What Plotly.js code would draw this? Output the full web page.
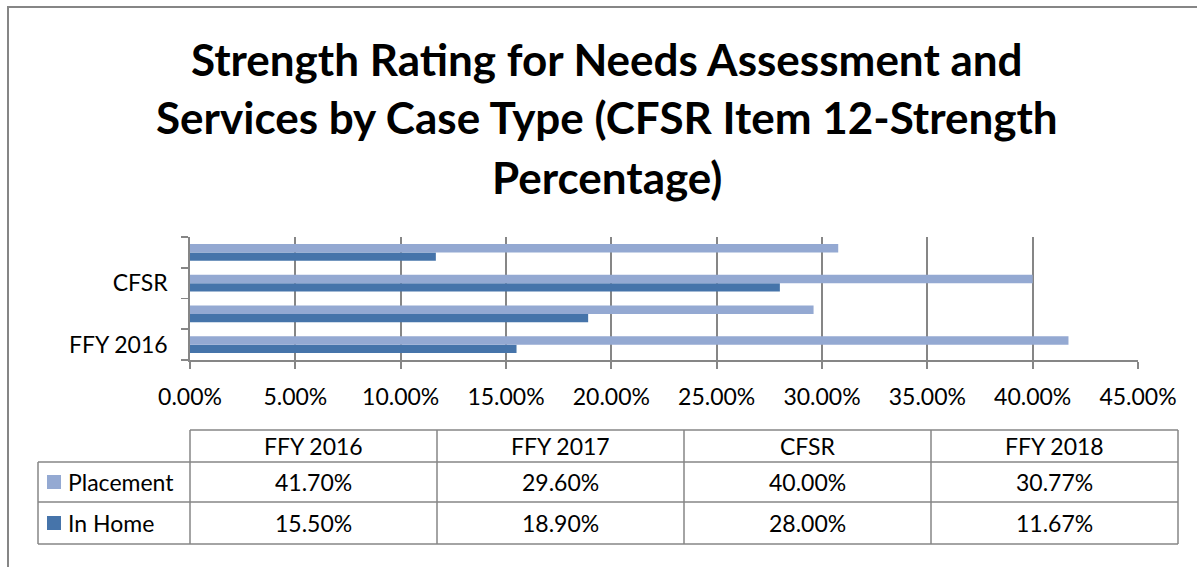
<!DOCTYPE html>
<html>
<head>
<meta charset="utf-8">
<script src="https://cdn.plot.ly/plotly-3.0.1.min.js"></script>
<style>html,body{margin:0;padding:0;background:#fff;}#chart{width:1197px;height:567px;}</style>
</head>
<body>
<div id="chart"></div>
<script>
// ---- data ----
const categories = ["FFY 2016", "FFY 2017", "CFSR", "FFY 2018"];
const placement = [41.70, 29.60, 40.00, 30.77];
const inHome = [15.50, 18.90, 28.00, 11.67];
const seriesNames = ["Placement", "In Home"];
const titleLines = ["Strength Rating for Needs Assessment and", "Services by Case Type (CFSR Item 12-Strength", "Percentage)"];
const xTickVals = [0, 5, 10, 15, 20, 25, 30, 35, 40, 45];

// ---- styling / layout helpers ----
const W = 1197, H = 567;
const L = 190, R = 1138, T = 237, B = 360;
const colPlacement = "#94A9D2";
const colInHome = "#4674AA";
const gridCol = "#868686";
const FONT = "Lato, 'Open Sans', sans-serif";
const FS = 23;
const px = v => (v - L) / (R - L);
const py = v => (B - v) / (B - T);

const traces = [
  {type: "bar", orientation: "h", name: seriesNames[1], y: categories, x: inHome,
   marker: {color: colInHome, line: {width: 0}}, hoverinfo: "x+y"},
  {type: "bar", orientation: "h", name: seriesNames[0], y: categories, x: placement,
   marker: {color: colPlacement, line: {width: 0}}, hoverinfo: "x+y"}
];

const shapes = [];
const annotations = [];

// outer frame
shapes.push({type: "rect", xref: "paper", yref: "paper", x0: px(8), x1: px(1300), y0: py(7), y1: py(700),
  line: {color: gridCol, width: 2}, fillcolor: "rgba(0,0,0,0)", layer: "below"});

// title lines
const titleY = [59, 117, 177];
titleLines.forEach((t, i) => annotations.push({
  xref: "paper", yref: "paper", x: px(607), y: py(titleY[i]), xanchor: "center", yanchor: "middle",
  text: "<b>" + t + "</b>", showarrow: false, font: {family: FONT, size: 44, color: "#000"}
}));

// data table
const tL = 38, tC = 190, tR = 1178;
const rowY = [430, 462, 502, 544];
const colW = (tR - tC) / categories.length;
const tableLine = {color: gridCol, width: 1.5};
const hline = (x0, x1, y) => shapes.push({type: "line", xref: "paper", yref: "paper", x0: px(x0), x1: px(x1), y0: py(y), y1: py(y), line: tableLine});
const vline = (x, y0, y1) => shapes.push({type: "line", xref: "paper", yref: "paper", x0: px(x), x1: px(x), y0: py(y0), y1: py(y1), line: tableLine});
hline(tC, tR, rowY[0]);
hline(tL, tR, rowY[1]);
hline(tL, tR, rowY[2]);
hline(tL, tR, rowY[3]);
vline(tL, rowY[1], rowY[3]);
for (let i = 0; i <= categories.length; i++) vline(tC + i * colW, rowY[0], rowY[3]);

const cellFont = {family: FONT, size: FS, color: "#000"};
categories.forEach((c, i) => annotations.push({
  xref: "paper", yref: "paper", x: px(tC + (i + 0.5) * colW), y: py((rowY[0] + rowY[1]) / 2),
  text: c, showarrow: false, xanchor: "center", yanchor: "middle", font: cellFont
}));
const rows = [placement, inHome];
const rowColors = [colPlacement, colInHome];
rows.forEach((vals, r) => {
  const yc = (rowY[r + 1] + rowY[r + 2]) / 2;
  shapes.push({type: "rect", xref: "paper", yref: "paper", x0: px(47), x1: px(61), y0: py(yc - 7), y1: py(yc + 7),
    fillcolor: rowColors[r], line: {width: 0}});
  annotations.push({xref: "paper", yref: "paper", x: px(66), y: py(yc), text: seriesNames[r], showarrow: false,
    xanchor: "left", yanchor: "middle", font: cellFont});
  vals.forEach((v, i) => annotations.push({
    xref: "paper", yref: "paper", x: px(tC + (i + 0.5) * colW), y: py(yc),
    text: v.toFixed(2) + "%", showarrow: false, xanchor: "center", yanchor: "middle", font: cellFont
  }));
});

const layout = {
  width: W, height: H,
  margin: {l: L, r: W - R, t: T, b: H - B, pad: 0},
  paper_bgcolor: "#fff", plot_bgcolor: "#fff",
  showlegend: false,
  barmode: "group", bargap: 0.45, bargroupgap: 0,
  font: {family: FONT, size: FS, color: "#000"},
  xaxis: {
    range: [0, 45], tickvals: xTickVals, ticktext: xTickVals.map(v => v.toFixed(2) + "%"),
    showgrid: true, gridcolor: gridCol, gridwidth: 1.8,
    showline: true, linecolor: gridCol, linewidth: 1.8,
    ticks: "outside", ticklen: 7, tickcolor: gridCol, tickwidth: 1.8,
    ticklabelstandoff: 9, zeroline: false, fixedrange: true,
    tickfont: {family: FONT, size: FS, color: "#000"}
  },
  yaxis: {
    type: "category", categoryorder: "array", categoryarray: categories,
    tickvals: categories, ticktext: categories.map((c, i) => i % 2 === 0 ? c : ""),
    tickson: "boundaries", ticks: "outside", ticklen: 7, tickcolor: gridCol, tickwidth: 1.8,
    showline: true, linecolor: gridCol, linewidth: 1.8, showgrid: false, zeroline: false,
    ticklabelstandoff: 16, fixedrange: true,
    tickfont: {family: FONT, size: FS, color: "#000"}
  },
  shapes: shapes,
  annotations: annotations
};

Plotly.newPlot("chart", traces, layout, {displayModeBar: false, staticPlot: true});
</script>
</body>
</html>
